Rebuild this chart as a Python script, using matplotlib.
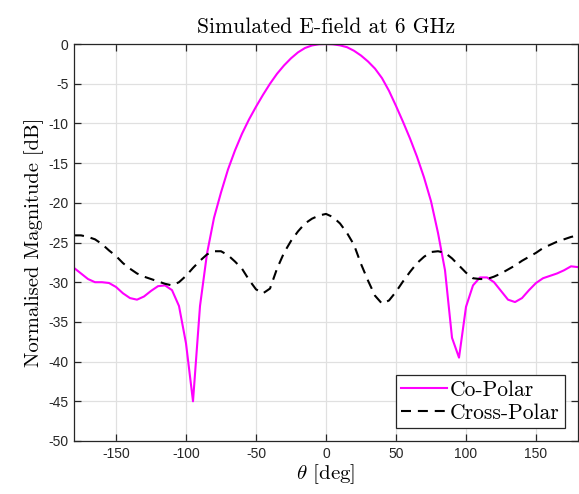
import matplotlib
matplotlib.use("Agg")
import matplotlib.pyplot as plt

# Angle grid (deg) and the two simulated patterns (dB)
theta = list(range(-180, 181, 5))

co_polar = [
    -28.2, -28.9, -29.6, -30.0, -30.0, -30.1, -30.6, -31.4, -32.0, -32.2,
    -31.8, -31.1, -30.5, -30.4, -31.0, -33.0, -37.7, -45.0, -33.0, -26.4,
    -21.9, -18.7, -15.8, -13.4, -11.3, -9.5, -7.9, -6.4, -5.0, -3.75,
    -2.7, -1.8, -1.05, -0.5, -0.18, -0.03, 0.0, -0.04, -0.17, -0.4,
    -0.85, -1.45, -2.2, -3.1, -4.3, -5.9, -7.8, -9.8, -11.9, -14.2,
    -16.8, -19.8, -23.8, -28.5, -37.0, -39.5, -33.1, -30.4, -29.4, -29.4,
    -30.0, -31.1, -32.2, -32.5, -32.0, -31.0, -30.1, -29.5, -29.2, -28.9,
    -28.5, -28.0, -28.1,
]

cross_polar = [
    -24.1, -24.1, -24.3, -24.6, -25.2, -26.0, -26.7, -27.6, -28.3, -28.9,
    -29.3, -29.6, -29.9, -30.2, -30.4, -30.0, -29.2, -28.2, -27.3, -26.5,
    -26.1, -26.1, -26.6, -27.4, -28.3, -29.7, -30.9, -31.4, -30.8, -28.3,
    -26.3, -24.8, -23.6, -22.6, -22.0, -21.6, -21.4, -21.8, -22.6, -23.8,
    -25.3, -27.7, -29.8, -31.7, -32.7, -32.3, -31.2, -29.9, -28.7, -27.6,
    -26.8, -26.2, -26.1, -26.3, -27.0, -27.9, -28.8, -29.5, -29.6, -29.6,
    -29.3, -28.9, -28.4, -27.9, -27.3, -26.8, -26.3, -25.7, -25.3, -24.9,
    -24.6, -24.3, -24.1,
]

x_ticks = [-150, -100, -50, 0, 50, 100, 150]
y_ticks = [0, -5, -10, -15, -20, -25, -30, -35, -40, -45, -50]

plt.rcParams["mathtext.fontset"] = "cm"
plt.rcParams["axes.unicode_minus"] = False
serif = "cmr10"

fig = plt.figure(figsize=(5.79, 4.94), dpi=100)
ax = fig.add_axes([0.1278, 0.1073, 0.8705, 0.8036])

ax.plot(theta, co_polar, color=(1, 0, 1), lw=1.5, label="Co-Polar")
ax.plot(theta, cross_polar, color="black", lw=1.5, ls=(0, (4.8, 3.3)),
        label="Cross-Polar")

ax.set_xlim(-180, 180)
ax.set_ylim(-50, 0)
ax.set_xticks(x_ticks)
ax.set_yticks(y_ticks)
ax.set_xticklabels([str(v) for v in x_ticks])
ax.set_yticklabels([str(v) for v in y_ticks])

axis_col = (0.15, 0.15, 0.15)
ax.grid(True, color=(0.88, 0.88, 0.88), lw=0.9)
ax.set_axisbelow(True)
for s in ax.spines.values():
    s.set_color(axis_col)
    s.set_linewidth(0.9)
ax.tick_params(direction="in", top=True, right=True, length=5,
               width=0.9, color=axis_col, labelcolor=axis_col,
               labelsize=10, pad=4)
for lab in ax.get_xticklabels() + ax.get_yticklabels():
    lab.set_family("Liberation Sans")

ax.set_title("Simulated E-field at 6 GHz", fontfamily=serif, fontsize=15.5,
             pad=8)
ax.set_xlabel(r"$\theta$ [deg]", fontfamily=serif, fontsize=15, labelpad=1)
ax.set_ylabel("Normalised Magnitude [dB]", fontfamily=serif, fontsize=14.8,
              labelpad=3)

leg = ax.legend(loc="lower right", prop={"family": serif, "size": 15.5},
                fancybox=False, framealpha=1, edgecolor=axis_col,
                borderpad=0.25, labelspacing=0.15, handlelength=2.15,
                handletextpad=0.12, borderaxespad=0.6)
leg.get_frame().set_linewidth(0.9)

fig.savefig("out.png", dpi=100)
